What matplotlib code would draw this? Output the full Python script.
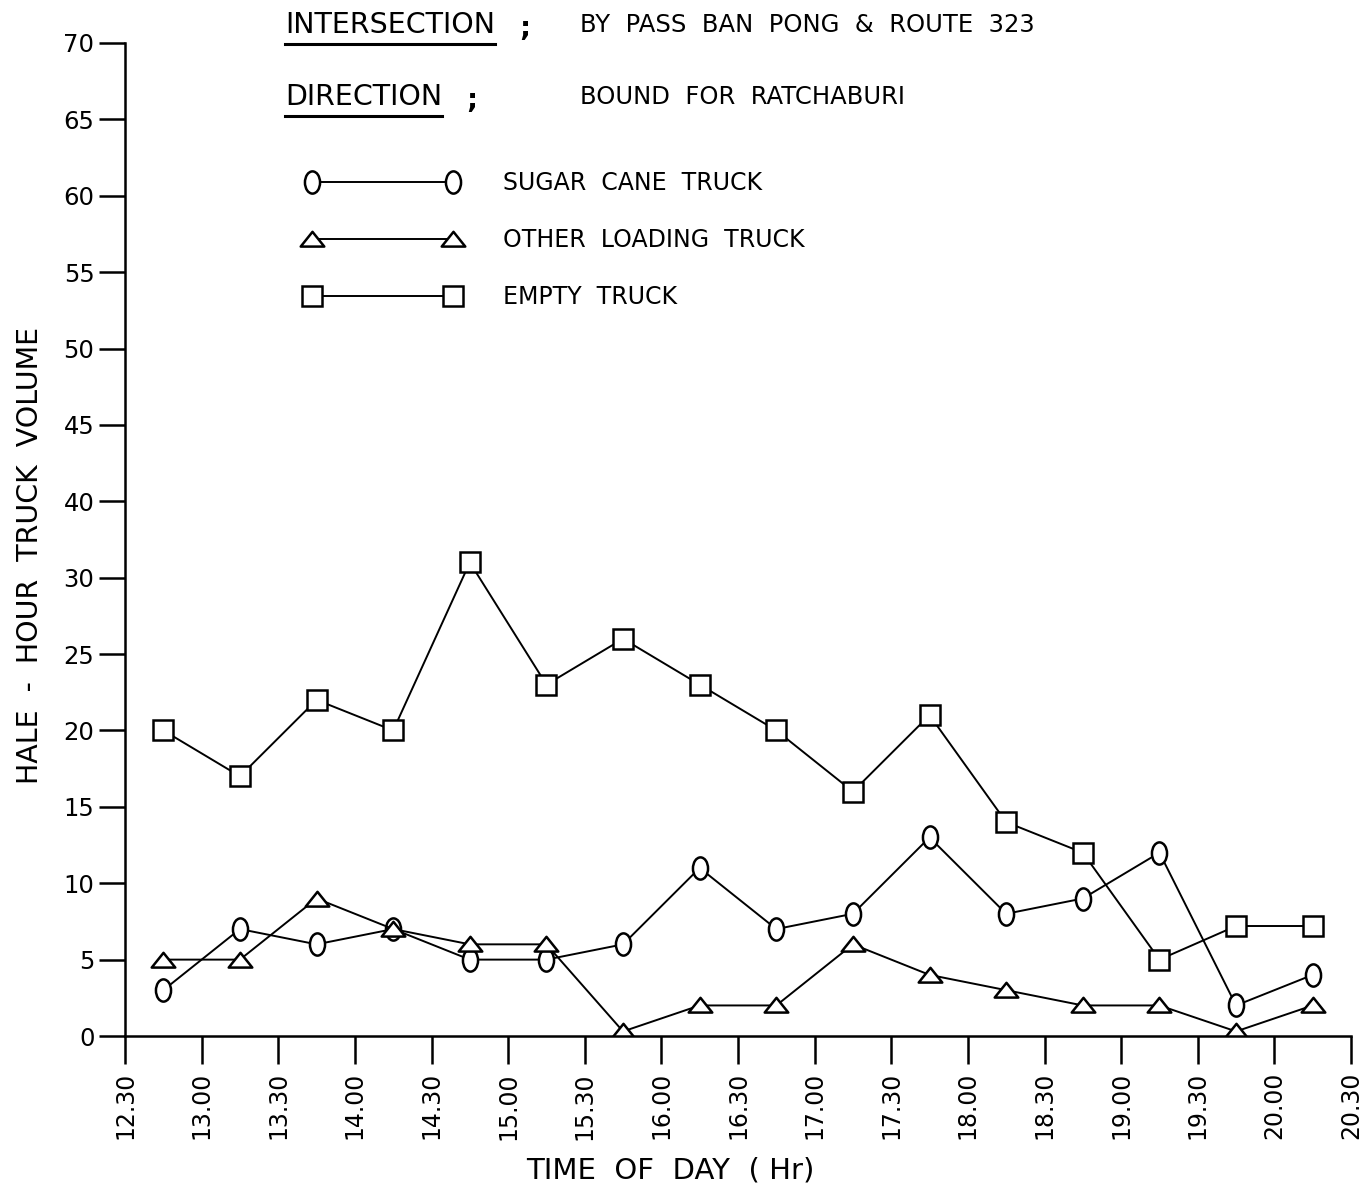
import numpy as np
import matplotlib
matplotlib.use("Agg")
import matplotlib.pyplot as plt
from matplotlib.path import Path
from matplotlib.transforms import Affine2D
from matplotlib.lines import Line2D

plt.rcParams['font.family'] = ['DejaVu Sans']

# half-hour periods, plotted at the middle of each period
mid_times = ["12.45", "13.15", "13.45", "14.15", "14.45", "15.15", "15.45", "16.15",
             "16.45", "17.15", "17.45", "18.15", "18.45", "19.15", "19.45", "20.15"]
x_tick_labels = ["12.30", "13.00", "13.30", "14.00", "14.30", "15.00", "15.30", "16.00",
                 "16.30", "17.00", "17.30", "18.00", "18.30", "19.00", "19.30", "20.00", "20.30"]
# the original axis skips "35", so labels are not evenly valued
y_tick_labels = ["0", "5", "10", "15", "20", "25", "30", "40", "45", "50", "55", "60", "65", "70"]

sugar_cane = [3, 7, 6, 7, 5, 5, 6, 11, 7, 8, 13, 8, 9, 12, 2, 4]
other_loading = [5, 5, 9, 7, 6, 6, 0.3, 2, 2, 6, 4, 3, 2, 2, 0.3, 2]
empty_truck = [20, 17, 22, 20, 31, 23, 26, 23, 20, 16, 21, 14, 12, 5, 7.2, 7.2]


def to_hours(s):
    h, m = s.split('.')
    return int(h) + int(m) / 60.


x = [to_hours(t) for t in mid_times]
xt = [to_hours(t) for t in x_tick_labels]
yt = np.arange(len(y_tick_labels)) * 5

W, H = 1368, 1193
fig = plt.figure(figsize=(W / 100, H / 100), dpi=100)
ax = fig.add_axes([125 / W, 1 - 1036 / H, (1351 - 125) / W, (1036 - 43) / H])

# hand drawn looking markers: tall oval and flat triangle
oval = Path.unit_circle().transformed(Affine2D().scale(0.68, 1.0))
tri = Path([(-1, -0.6), (1, -0.6), (0, 0.65), (-1, -0.6)],
           [Path.MOVETO, Path.LINETO, Path.LINETO, Path.CLOSEPOLY])

style = dict(color='black', lw=1.4, mfc='white', mec='black', mew=1.8)
l1, = ax.plot(x, sugar_cane, marker=oval, ms=16, **style)
l2, = ax.plot(x, other_loading, marker=tri, ms=17, **style)
l3, = ax.plot(x, empty_truck, marker='s', ms=15, **style)

ax.set_xlim(xt[0], xt[-1])
ax.set_ylim(0, yt[-1])
ax.set_xticks(xt)
ax.set_xticklabels(x_tick_labels, rotation=90, fontsize=17)
ax.set_yticks(yt)
ax.set_yticklabels(y_tick_labels, fontsize=17.5)
ax.tick_params(axis='y', length=19, width=1.8, pad=3)
ax.tick_params(axis='x', length=20, width=1.8, pad=6)
for s in ['top', 'right']:
    ax.spines[s].set_visible(False)
for s in ['left', 'bottom']:
    ax.spines[s].set_linewidth(1.8)

fig.text(30 / W, 1 - 555 / H, "HALE  -  HOUR  TRUCK  VOLUME", rotation=90,
         ha='center', va='center', fontsize=20.5)
fig.text(670 / W, 1 - 1170 / H, "TIME  OF  DAY  ( Hr)", ha='center', va='center', fontsize=21)

# header texts
renderer = fig.canvas.get_renderer()
for label, yy, right in [("INTERSECTION", 25, "BY  PASS  BAN  PONG  &  ROUTE  323"),
                         ("DIRECTION", 97, "BOUND  FOR  RATCHABURI")]:
    t = fig.text(285 / W, 1 - yy / H, label, ha='left', va='center', fontsize=20.5)
    bb = t.get_window_extent(renderer)
    fig.text((bb.x1 + 24) / W, 1 - (yy + 4) / H, ";", ha='left', va='center',
             fontsize=20, fontweight='bold')
    uy = (bb.y0 - 5) / H
    fig.add_artist(Line2D([bb.x0 / W, bb.x1 / W], [uy, uy], color='black', lw=2.2,
                          transform=fig.transFigure))
    fig.text(580 / W, 1 - yy / H, right, ha='left', va='center', fontsize=17.5)

ax.legend([l1, l2, l3], ["SUGAR  CANE  TRUCK", "OTHER  LOADING  TRUCK", "EMPTY  TRUCK"],
          loc='upper left', bbox_to_anchor=(305 / W, 1 - 171 / H),
          bbox_transform=fig.transFigure, frameon=False, numpoints=2,
          fontsize=17, handlelength=6.57, handletextpad=1.82, labelspacing=1.4,
          borderpad=0, borderaxespad=0)

fig.savefig("out.png", dpi=100, facecolor='white')
